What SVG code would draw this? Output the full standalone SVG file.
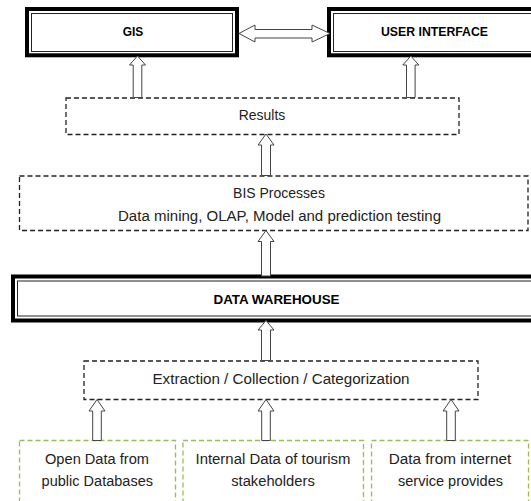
<svg xmlns="http://www.w3.org/2000/svg" width="531" height="501" viewBox="0 0 531 501">
<style>
.thick{fill:none;stroke:#000;stroke-width:4}
.thin{fill:none;stroke:#222;stroke-width:1}
.dash{fill:#fff;stroke:#222;stroke-width:1.3;stroke-dasharray:5,3}
.green{fill:#fff;stroke:#9BBB59;stroke-width:1.3;stroke-dasharray:5,3}
.arrow{fill:#fff;stroke:#444;stroke-width:1}
text{font-family:"Liberation Sans",Arial,sans-serif;font-size:14px;fill:#222;text-anchor:middle}
.b{font-weight:bold;font-size:12.5px;fill:#000}
</style>
<rect width="531" height="501" fill="#fff"/>
<g id="gis">
<rect class="thick" x="27" y="9" width="210" height="46.3"/>
<rect class="thin" x="31.5" y="13.5" width="201" height="38"/>
<text class="b" x="133" y="36" textLength="20.5" lengthAdjust="spacingAndGlyphs">GIS</text>
</g>
<g id="user-interface">
<rect class="thick" x="329" y="9" width="230" height="46.3"/>
<rect class="thin" x="333.5" y="13.5" width="220" height="38"/>
<text class="b" x="434.5" y="36" textLength="107" lengthAdjust="spacingAndGlyphs">USER INTERFACE</text>
</g>
<g id="results">
<rect class="dash" x="66" y="98" width="393" height="36.5"/>
<text x="262" y="120" textLength="46.5" lengthAdjust="spacingAndGlyphs">Results</text>
</g>
<g id="bis">
<rect class="dash" x="19.5" y="176" width="508.5" height="54.5"/>
<text x="279" y="198">BIS Processes</text>
<text x="279.5" y="221" textLength="323" lengthAdjust="spacingAndGlyphs">Data mining, OLAP, Model and prediction testing</text>
</g>
<g id="data-warehouse">
<rect class="thick" x="13" y="276.5" width="540" height="44"/>
<rect class="thin" x="17.5" y="281" width="530" height="35"/>
<text class="b" x="276.5" y="304" textLength="126" lengthAdjust="spacingAndGlyphs">DATA WAREHOUSE</text>
</g>
<g id="extraction">
<rect class="dash" x="84" y="361" width="394" height="38.5"/>
<text x="281" y="383.5" textLength="257" lengthAdjust="spacingAndGlyphs">Extraction / Collection / Categorization</text>
</g>
<g id="open-data">
<rect class="green" x="19.5" y="440.5" width="156" height="75"/>
<text x="97" y="463.5" textLength="104" lengthAdjust="spacingAndGlyphs">Open Data from</text>
<text x="97.3" y="485.5" textLength="111.4" lengthAdjust="spacingAndGlyphs">public Databases</text>
</g>
<g id="internal-data">
<rect class="green" x="183" y="440.5" width="180.5" height="75"/>
<text x="273" y="463.5" textLength="155" lengthAdjust="spacingAndGlyphs">Internal Data of tourism</text>
<text x="273" y="485.5" textLength="83.6" lengthAdjust="spacingAndGlyphs">stakeholders</text>
</g>
<g id="internet-data">
<rect class="green" x="371.5" y="440.5" width="157" height="75"/>
<text x="450" y="463.5" textLength="122.5" lengthAdjust="spacingAndGlyphs">Data from internet</text>
<text x="450.5" y="485.5" textLength="105" lengthAdjust="spacingAndGlyphs">service provides</text>
</g>
<g id="connectors">
<path class="arrow" d="M239,33.5 L255,25 L255,29.5 L312,29.5 L312,25 L330,33.5 L312,42 L312,38 L255,38 L255,42 Z"/>
<path class="arrow" d="M137.5,56 L145.5,65 L141.8,65 L141.8,97.5 L133.2,97.5 L133.2,65 L129.5,65 Z"/>
<path class="arrow" d="M410.8,56 L418.8,65 L415.1,65 L415.1,97.5 L406.5,97.5 L406.5,65 L402.8,65 Z"/>
<path class="arrow" d="M266,134 L274,145 L270.5,145 L270.5,175.5 L261.5,175.5 L261.5,145 L258,145 Z"/>
<path class="arrow" d="M266,230.5 L274,241.5 L270.5,241.5 L270.5,276 L261.5,276 L261.5,241.5 L258,241.5 Z"/>
<path class="arrow" d="M266,320.5 L274,330 L270.5,330 L270.5,360.5 L261.5,360.5 L261.5,330 L258,330 Z"/>
<path class="arrow" d="M97,399.5 L105,411 L101.3,411 L101.3,440.5 L92.7,440.5 L92.7,411 L89,411 Z"/>
<path class="arrow" d="M266,399.5 L274,411 L270.3,411 L270.3,440.5 L261.7,440.5 L261.7,411 L258,411 Z"/>
<path class="arrow" d="M451,399.5 L459,411 L455.3,411 L455.3,440.5 L446.7,440.5 L446.7,411 L443,411 Z"/>
</g>
</svg>
